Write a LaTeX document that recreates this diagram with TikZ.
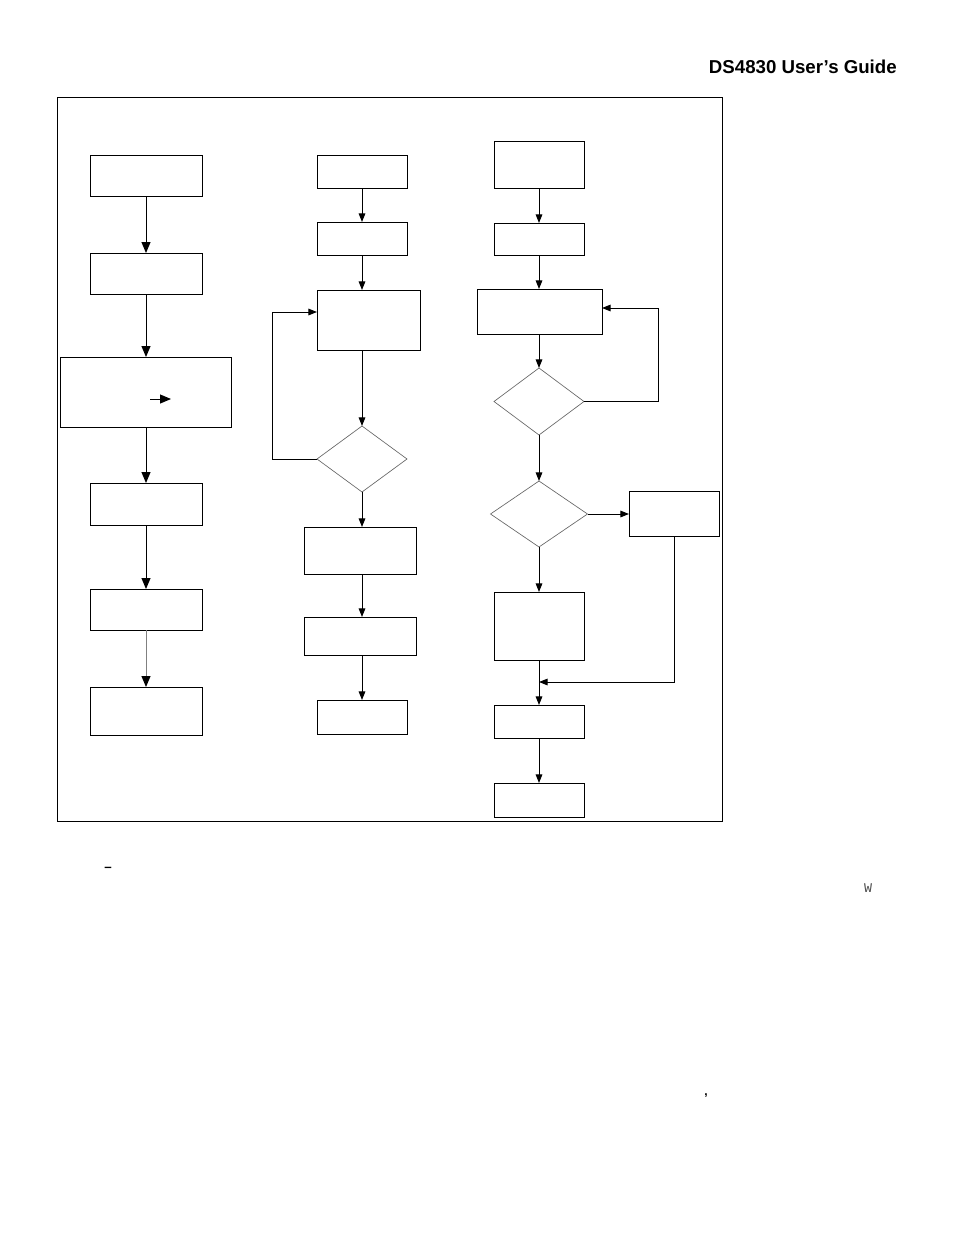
\documentclass[tikz,border=0pt]{standalone}
\usepackage{fontspec}
\setmainfont{Liberation Sans}
\newfontfamily\monofont{Liberation Mono}
\usetikzlibrary{shapes.geometric,arrows.meta}
\begin{document}
\begin{tikzpicture}[x=0.75pt,y=-0.75pt,
  bx/.style 2 args={draw,line width=0.75pt,inner sep=0pt,outer sep=0pt,minimum width=#1*0.75pt,minimum height=#2*0.75pt},
  dm/.style 2 args={diamond,draw=black!60,line width=0.5pt,inner sep=0pt,outer sep=0pt,minimum width=#1*0.75pt,minimum height=#2*0.75pt},
  ar/.style={line width=0.75pt,-{Triangle[length=6.5pt,width=5pt]}},
  arb/.style={line width=0.75pt,-{Triangle[length=8.25pt,width=6.75pt]}}]
\useasboundingbox (0,0) rectangle (954,1235);
% title
\node[anchor=base east,inner sep=0pt,font=\fontsize{14}{16}\selectfont\bfseries] (title) at (897,73) {DS4830 User’s Guide};
% frame
\node[bx={665}{724}] (frame) at (389.5,459) {};
% left column
\node[bx={112}{41}] (b1) at (146,175.5) {};
\node[bx={112}{41}] (b2) at (146,273.5) {};
\node[bx={171}{70}] (b3) at (145.5,392) {};
\node[bx={112}{42}] (b4) at (146,504) {};
\node[bx={112}{41}] (b5) at (146,609.5) {};
\node[bx={112}{48}] (b6) at (146,711) {};
\coordinate (ia) at (150,399);
\coordinate (ib) at (171,399);
\draw[arb] (b1.south) -- (b2.north);
\draw[arb] (b2.south) -- (b2.south |- b3.north);
\draw[arb] (b2.south |- b3.south) -- (b4.north);
\draw[arb] (b4.south) -- (b5.north);
\draw[line width=0.75pt,draw=black!50,-{Triangle[length=8.25pt,width=6.75pt,color=black]}] (b5.south) -- (b6.north);
\draw[arb] (ia) -- (ib);
% middle column
\node[bx={90}{33}] (m1) at (362,171.5) {};
\node[bx={90}{33}] (m2) at (362,238.5) {};
\node[bx={103}{60}] (m3) at (368.5,320) {};
\node[dm={90}{66}] (d1) at (362,459) {};
\node[bx={112}{47}] (m4) at (360,550.5) {};
\node[bx={112}{38}] (m5) at (360,636) {};
\node[bx={90}{34}] (m6) at (362,717) {};
\draw[ar] (m1.south) -- (m2.north);
\draw[ar] (m2.south) -- (m2.south |- m3.north);
\draw[ar] (m2.south |- m3.south) -- (d1.north);
\draw[ar] (d1.west) -- (272,459) -- (272,312) -- (m3.west |- 0,312);
\draw[ar] (d1.south) -- (d1.south |- m4.north);
\draw[ar] (d1.south |- m4.south) -- (d1.south |- m5.north);
\draw[ar] (d1.south |- m5.south) -- (m6.north);
% right column
\node[bx={90}{47}] (r1) at (539,164.5) {};
\node[bx={90}{32}] (r2) at (539,239) {};
\node[bx={125}{45}] (r3) at (539.5,311.5) {};
\node[dm={90}{67}] (d2) at (539,401.5) {};
\node[dm={97}{66}] (d3) at (539,514) {};
\node[bx={90}{45}] (r4) at (674,514) {};
\node[bx={90}{68}] (r5) at (539,626) {};
\node[bx={90}{33}] (r6) at (539,721.5) {};
\node[bx={90}{34}] (r7) at (539,800) {};
\coordinate (j) at (539,682);
\draw[ar] (r1.south) -- (r2.north);
\draw[ar] (r2.south) -- (r2.south |- r3.north);
\draw[ar] (r2.south |- r3.south) -- (d2.north);
\draw[ar] (d2.east) -- (658,401.5) -- (658,308) -- (r3.east |- 0,308);
\draw[ar] (d2.south) -- (d3.north);
\draw[ar] (d3.east) -- (r4.west);
\draw[ar] (d3.south) -- (r5.north);
\draw[ar] (r5.south) -- (r6.north);
\draw[ar] (r4.south) -- (r4.south |- j) -- (j);
\draw[ar] (r6.south) -- (r7.north);
% stray marks
\node[inner sep=0pt,font=\fontsize{10}{12}\selectfont\bfseries] (dash) at (108,869) {–};
\node[inner sep=0pt,font=\monofont\fontsize{10}{12}\selectfont,text=black!70] (w) at (868,888) {W};
\node[inner sep=0pt,font=\fontsize{9}{11}\selectfont\bfseries] (cm) at (706,1096) {,};
\end{tikzpicture}
\end{document}
